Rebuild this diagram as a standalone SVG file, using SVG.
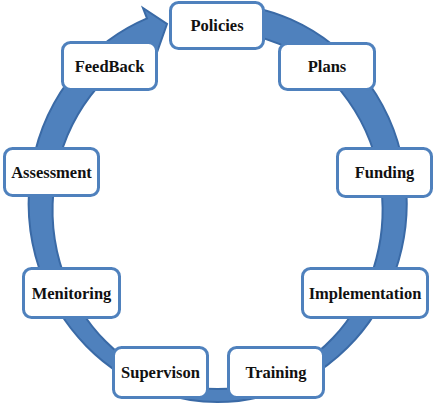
<svg xmlns="http://www.w3.org/2000/svg" width="441" height="412" viewBox="0 0 441 412">
  <style>
    .box { fill: #ffffff; stroke: #4f81bd; stroke-width: 3; }
    .lbl { font-family: "Liberation Serif", "Times New Roman", serif; font-weight: bold; font-size: 16.5px; fill: #111111; text-anchor: middle; }
    .ring { fill: #4f81bd; stroke: #3a6aa6; stroke-width: 2; stroke-linejoin: miter; }
  </style>
  <rect width="441" height="412" fill="#ffffff"/>
  <g id="connectors">
    <path class="ring" d="M 205 4.4 A 189 199 0 1 1 147 18.4 L 143 8 L 167 24 L 155 58 L 151 46.2 A 165 179 0 1 0 205 31.5 Z"/>
  </g>
  <g id="policies">
    <rect class="box" x="170.5" y="2.5" width="93" height="46" rx="8"/>
    <text class="lbl" x="217" y="31">Policies</text>
  </g>
  <g id="plans">
    <rect class="box" x="279.5" y="43.5" width="95" height="46" rx="8"/>
    <text class="lbl" x="327" y="72">Plans</text>
  </g>
  <g id="funding">
    <rect class="box" x="337.5" y="148.5" width="94" height="48" rx="8"/>
    <text class="lbl" x="384.5" y="178">Funding</text>
  </g>
  <g id="implementation">
    <rect class="box" x="302.5" y="268.5" width="125" height="49" rx="8"/>
    <text class="lbl" x="365" y="299">Implementation</text>
  </g>
  <g id="training">
    <rect class="box" x="228.5" y="347.5" width="95" height="50" rx="8"/>
    <text class="lbl" x="276" y="378">Training</text>
  </g>
  <g id="supervison">
    <rect class="box" x="113.5" y="347.5" width="94" height="50" rx="8"/>
    <text class="lbl" x="160.5" y="378">Supervison</text>
  </g>
  <g id="monitoring">
    <rect class="box" x="23.5" y="268.5" width="96" height="49" rx="8"/>
    <text class="lbl" x="71.5" y="299">Menitoring</text>
  </g>
  <g id="assessment">
    <rect class="box" x="4.5" y="148.5" width="94" height="47" rx="8"/>
    <text class="lbl" x="51.5" y="178">Assessment</text>
  </g>
  <g id="feedback">
    <rect class="box" x="62.5" y="42.5" width="94" height="47" rx="8"/>
    <text class="lbl" x="109.5" y="72">FeedBack</text>
  </g>
</svg>
